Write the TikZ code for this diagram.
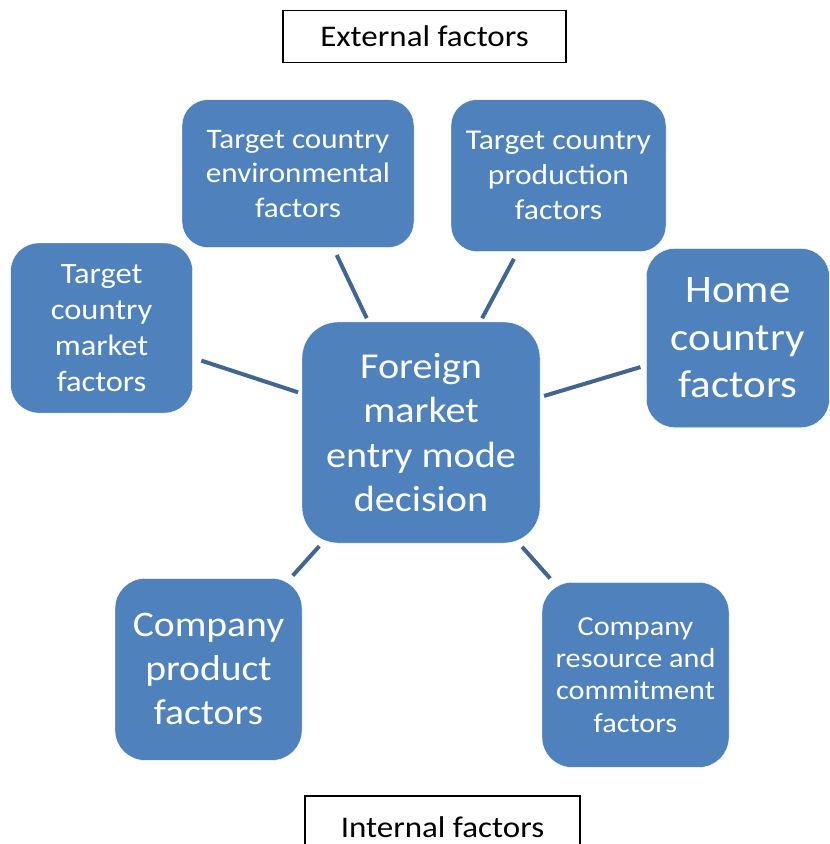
\documentclass[tikz,border=0pt]{standalone}
\usepackage{fontspec}
\setmainfont{Carlito}[FakeStretch=1.1]
\usetikzlibrary{positioning}

\definecolor{boxblue}{HTML}{4F81BD}
\definecolor{linkblue}{HTML}{41668F}

\tikzset{
  factor/.style={rectangle, rounded corners=26pt, fill=boxblue, draw=white,
    text=white, align=center, inner sep=0pt},
  tag/.style={rectangle, draw=black, line width=1.3pt, fill=white, text=black,
    inner sep=0pt, font=\fontsize{30}{36}\selectfont},
  link/.style={draw=linkblue, line width=4pt, shorten <=6pt, shorten >=4pt}
}

\begin{document}
\begin{tikzpicture}[x=1pt, y=-1pt]
          \useasboundingbox (0,0) rectangle (830,844);

          \node (decision) [factor, rounded corners=36pt, minimum width=238pt, minimum height=221pt,
            font=\fontsize{36.5}{44.5}\selectfont] at (421,432.5)
            {Foreign\\market\\entry mode\\decision};

          \node (envir) [factor, minimum width=232pt, minimum height=148pt,
            font=\fontsize{28.3}{34.5}\selectfont, above=74pt of decision, xshift=-123pt]
            {Target country\\environmental\\factors};
          \node (prodn) [factor, minimum width=215pt, minimum height=152pt,
            font=\fontsize{28.7}{35}\selectfont, above=70pt of decision, xshift=137.5pt]
            {Target country\\production\\factors};

          \node (market) [factor, rounded corners=28pt, minimum width=182pt, minimum height=170pt,
            font=\fontsize{29.5}{36}\selectfont, left=109pt of decision, yshift=104.5pt]
            {Target\\country\\market\\factors};
          \node (home) [factor, rounded corners=28pt, minimum width=183pt, minimum height=179pt,
            font=\fontsize{39}{47.5}\selectfont, right=106pt of decision, yshift=94.5pt]
            {Home\\country\\factors};

          \node (product) [factor, rounded corners=30pt, minimum width=187pt, minimum height=182pt,
            font=\fontsize{36}{44}\selectfont, below=35pt of decision, xshift=-212.5pt]
            {Company\\product\\factors};
          \node (resource) [factor, rounded corners=30pt, minimum width=187pt, minimum height=185pt,
            font=\fontsize{27.5}{32.3}\selectfont, below=39pt of decision, xshift=214.5pt]
            {Company\\resource and\\commitment\\factors};

          \node (external) [tag, minimum width=283pt, minimum height=52pt,
            above=259pt of decision, xshift=3.5pt] {External factors};
          \node (internal) [tag, minimum width=275pt, minimum height=62pt,
            below=252pt of decision, xshift=21.5pt] {Internal factors};

          \path [link]
              (envir) edge [shorten <=8pt] (decision)
              (prodn) edge [shorten <=8pt] (decision)
              (market) edge [shorten <=9pt] (decision)
              (home) edge (decision)
              (product) edge [shorten <=3.5pt] (decision)
              (resource) edge [shorten <=5pt, shorten >=5pt] (decision)
              ;
\end{tikzpicture}
\end{document}
